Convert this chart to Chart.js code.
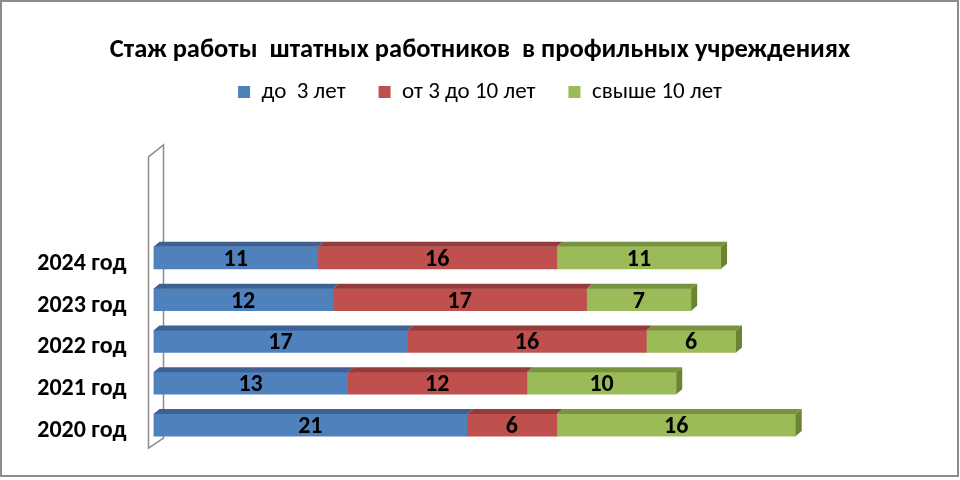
<!DOCTYPE html>
<html>
<head>
<meta charset="utf-8">
<script src="https://cdn.jsdelivr.net/npm/chart.js@4.4.1/dist/chart.umd.min.js"></script>
<style>
  html, body { margin: 0; padding: 0; background: #fff; }
  #wrap { width: 960px; height: 480px; }
</style>
</head>
<body>
<div id="wrap"><canvas id="stazhChart"></canvas></div>
<script>
// Chart data
const years = ['2024 год', '2023 год', '2022 год', '2021 год', '2020 год'];
const seriesNames = ['до  3 лет', 'от 3 до 10 лет', 'свыше 10 лет'];
const upTo3 = [11, 12, 17, 13, 21];
const from3to10 = [16, 17, 16, 12, 6];
const over10 = [11, 7, 6, 10, 16];

const FONT = 'Carlito, Lato, "Open Sans", sans-serif';

// front, top and side colours of the 3d bars
const faceColors = [
    { front: '#4F81BD', top: '#3C6192', side: '#35557f' },
    { front: '#C0504D', top: '#943C3A', side: '#7f3432' },
    { front: '#9BBB59', top: '#78933F', side: '#6A8432' }
];

// Draws the white background, the outer border and the thin side wall
const backgroundPlugin = {
    id: 'backgroundPlugin',
    beforeDraw(chart) {
        const ctx = chart.ctx;
        ctx.save();
        ctx.fillStyle = '#fff';
        ctx.fillRect(0, 0, chart.width, chart.height);
        ctx.strokeStyle = '#8c8c8c';
        ctx.lineWidth = 2;
        ctx.strokeRect(1, 1, chart.width - 3, chart.height - 5);
        ctx.restore();
    },
    beforeDatasetsDraw(chart) {
        const ctx = chart.ctx;
        const ca = chart.chartArea;
        ctx.save();
        ctx.strokeStyle = '#8c8c8c';
        ctx.lineWidth = 1.5;
        ctx.fillStyle = '#fff';
        ctx.beginPath();
        ctx.moveTo(ca.left - 5, ca.top - 80);
        ctx.lineTo(ca.left + 10, ca.top - 92);
        ctx.lineTo(ca.left + 10, ca.bottom - 8);
        ctx.lineTo(ca.left - 5, ca.bottom + 2);
        ctx.closePath();
        ctx.fill();
        ctx.stroke();
        ctx.restore();
    }
};

// Adds top and side faces to the bars and writes the values on them
const bars3dPlugin = {
    id: 'bars3dPlugin',
    afterDatasetsDraw(chart) {
        const ctx = chart.ctx;
        const dx = 6, dy = 5;
        const last = chart.data.datasets.length - 1;
        ctx.save();
        chart.data.datasets.forEach((ds, i) => {
            const meta = chart.getDatasetMeta(i);
            meta.data.forEach(bar => {
                const top = bar.y - bar.height / 2;
                const bottom = bar.y + bar.height / 2;
                const x0 = Math.min(bar.base, bar.x);
                const x1 = Math.max(bar.base, bar.x);
                ctx.fillStyle = faceColors[i].top;
                ctx.beginPath();
                ctx.moveTo(x0, top);
                ctx.lineTo(x0 + dx, top - dy);
                ctx.lineTo(x1 + dx, top - dy);
                ctx.lineTo(x1, top);
                ctx.closePath();
                ctx.fill();
                if (i === last) {
                    ctx.fillStyle = faceColors[i].side;
                    ctx.beginPath();
                    ctx.moveTo(x1, top);
                    ctx.lineTo(x1 + dx, top - dy);
                    ctx.lineTo(x1 + dx, bottom - dy);
                    ctx.lineTo(x1, bottom);
                    ctx.closePath();
                    ctx.fill();
                }
            });
        });
        // value labels
        ctx.fillStyle = '#000';
        ctx.font = 'bold 24px ' + FONT;
        ctx.textAlign = 'center';
        ctx.textBaseline = 'middle';
        chart.data.datasets.forEach((ds, i) => {
            const meta = chart.getDatasetMeta(i);
            meta.data.forEach((bar, j) => {
                ctx.fillText(ds.data[j], (bar.base + bar.x) / 2, bar.y + 2);
            });
        });
        ctx.restore();
    }
};

// Keeps the legend close under the title and leaves room above the bars
const legendSpacePlugin = {
    id: 'legendSpacePlugin',
    beforeInit(chart) {
        const origFit = chart.legend.fit;
        chart.legend.fit = function () {
            origFit.call(this);
            this.height = 189.5;
        };
    }
};

const ctx = document.getElementById('stazhChart').getContext('2d');
const chart = new Chart(ctx, {
    type: 'bar',
    data: {
        labels: years,
        datasets: [
            { label: seriesNames[0], data: upTo3, backgroundColor: faceColors[0].front },
            { label: seriesNames[1], data: from3to10, backgroundColor: faceColors[1].front },
            { label: seriesNames[2], data: over10, backgroundColor: faceColors[2].front }
        ]
    },
    options: {
        indexAxis: 'y',
        responsive: true,
        maintainAspectRatio: false,
        animation: false,
        datasets: {
            bar: { barThickness: 22, borderWidth: 0 }
        },
        layout: {
            padding: { top: 0, right: 0, bottom: 34, left: 0 }
        },
        scales: {
            x: {
                stacked: true,
                display: false,
                min: 0,
                max: 54
            },
            y: {
                stacked: true,
                grid: { display: false, drawTicks: false },
                border: { display: false },
                ticks: {
                    color: '#000',
                    padding: 27,
                    labelOffset: 6,
                    font: { family: FONT, size: 24, weight: 'bold' }
                },
                afterFit(scale) {
                    scale.width = 153.5;
                    scale.paddingTop = 0;
                    scale.paddingBottom = 0;
                }
            }
        },
        plugins: {
            title: {
                display: true,
                text: 'Стаж работы  штатных работников  в профильных учреждениях',
                color: '#000',
                font: { family: FONT, size: 26.5, weight: 'bold' },
                padding: { top: 34, bottom: -18.4 }
            },
            legend: {
                position: 'top',
                labels: {
                    color: '#000',
                    boxWidth: 12,
                    boxHeight: 12,
                    padding: 33,
                    font: { family: FONT, size: 23 }
                }
            },
            tooltip: { enabled: false }
        }
    },
    plugins: [backgroundPlugin, bars3dPlugin, legendSpacePlugin]
});
</script>
</body>
</html>
